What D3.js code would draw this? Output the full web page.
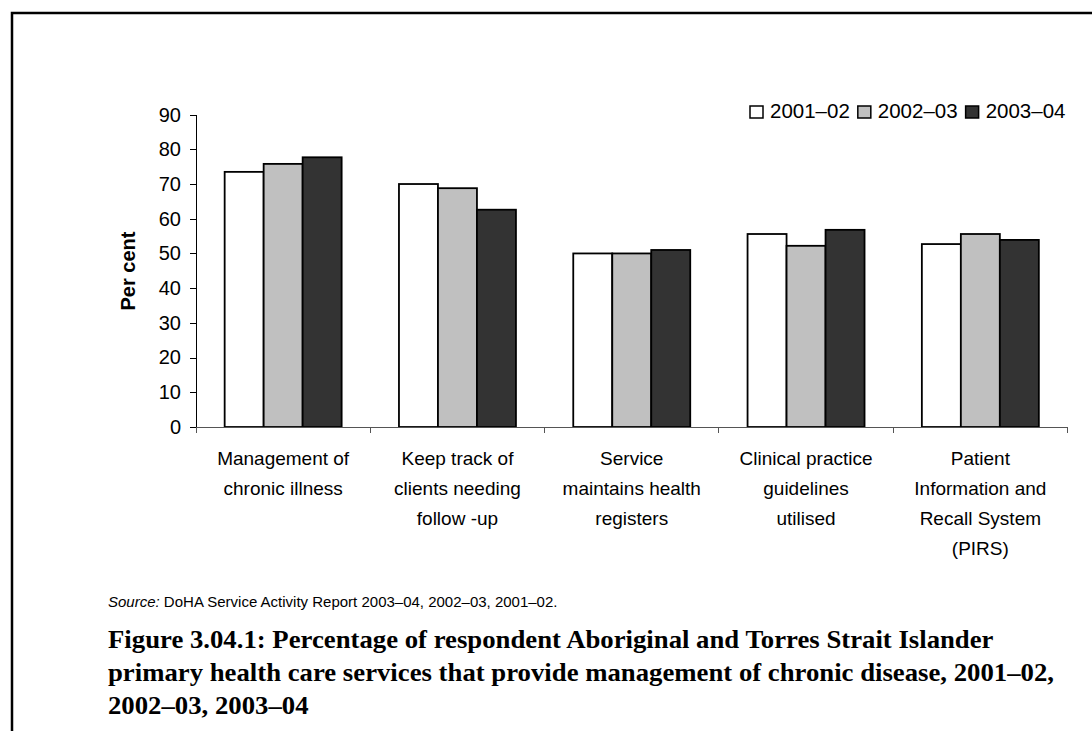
<!DOCTYPE html>
<html>
<head>
<meta charset="utf-8">
<script src="https://cdn.jsdelivr.net/npm/d3@7"></script>
<style>
  body { margin: 0; background: #fff; }
  text { fill: #000; }
</style>
</head>
<body>
<script>
// chart data
let categories = [
  ["Management of", "chronic illness"],
  ["Keep track of", "clients needing", "follow -up"],
  ["Service", "maintains health", "registers"],
  ["Clinical practice", "guidelines", "utilised"],
  ["Patient", "Information and", "Recall System", "(PIRS)"]
];
let seriesNames = ["2001\u201302", "2002\u201303", "2003\u201304"];
let values2001 = [73.5, 70.0, 50.0, 55.6, 52.7];
let values2002 = [75.8, 68.8, 50.0, 52.2, 55.6];
let values2003 = [77.7, 62.6, 51.0, 56.8, 53.9];
let yTicks = [0, 10, 20, 30, 40, 50, 60, 70, 80, 90];

let colors = ["#ffffff", "#c0c0c0", "#333333"];
let allValues = [values2001, values2002, values2003];

let sans = "'Liberation Sans', Arial, sans-serif";
let serif = "'Liberation Serif', 'Times New Roman', serif";

let width = 1092, height = 731;

let svg = d3.select("body")
            .append("svg")
            .attr("width", width)
            .attr("height", height)
            .style("font-family", sans);

// page frame
svg.append("path")
   .attr("d", "M12,731 V13 H1092")
   .attr("fill", "none")
   .attr("stroke", "#000")
   .attr("stroke-width", 2.5);

let x = d3.scaleBand()
          .domain(d3.range(categories.length))
          .range([196, 1067.5])
          .paddingInner(0)
          .paddingOuter(0);

let xInner = d3.scaleBand()
               .domain(d3.range(seriesNames.length))
               .range([0, x.bandwidth()])
               .paddingInner(0)
               .paddingOuter(0.735);

let y = d3.scaleLinear()
          .domain([0, 90])
          .range([427, 114.6]);

// bars
for (let s = 0; s < seriesNames.length; s++) {
  svg.append("g")
     .selectAll("rect")
     .data(allValues[s])
     .join("rect")
     .attr("x", (d, i) => x(i) + xInner(s))
     .attr("y", d => y(d))
     .attr("width", xInner.bandwidth())
     .attr("height", d => y(0) - y(d))
     .attr("fill", colors[s])
     .attr("stroke", "#000")
     .attr("stroke-width", 1.8);
}

// y axis
let yAxis = svg.append("g")
               .attr("transform", "translate(196,0)")
               .call(d3.axisLeft(y).tickValues(yTicks).tickSize(6).tickPadding(9));
yAxis.select(".domain").attr("stroke", "#000").attr("shape-rendering", "crispEdges");
yAxis.selectAll(".tick line").attr("stroke", "#000").attr("shape-rendering", "crispEdges");
yAxis.selectAll(".tick text")
     .style("font-family", sans)
     .attr("font-size", 20)
     .attr("fill", "#000");

// x axis: line plus ticks on category boundaries
let bounds = d3.range(categories.length + 1).map(i => i < categories.length ? x(i) : x.range()[1]);
svg.append("line")
   .attr("x1", x.range()[0]).attr("x2", x.range()[1])
   .attr("y1", y(0)).attr("y2", y(0))
   .attr("stroke", "#555")
   .attr("shape-rendering", "crispEdges");
svg.append("g")
   .selectAll("line")
   .data(bounds)
   .join("line")
   .attr("x1", d => d).attr("x2", d => d)
   .attr("y1", y(0)).attr("y2", y(0) + 6)
   .attr("stroke", "#555")
   .attr("shape-rendering", "crispEdges");

// category labels
let labels = svg.append("g")
                .selectAll("text")
                .data(categories)
                .join("text")
                .attr("text-anchor", "middle")
                .attr("font-size", 19)
                .attr("y", 465);
labels.selectAll("tspan")
      .data((d, i) => d.map(line => ({ line: line, i: i })))
      .join("tspan")
      .attr("x", d => x(d.i) + x.bandwidth() / 2)
      .attr("dy", (d, j) => j == 0 ? 0 : 30)
      .text(d => d.line);

// y axis title
svg.append("text")
   .attr("transform", "translate(135,271) rotate(-90)")
   .attr("text-anchor", "middle")
   .attr("font-size", 20)
   .attr("font-weight", "bold")
   .text("Per cent");

// legend
{
  let lx = 750;
  for (let s = 0; s < seriesNames.length; s++) {
    svg.append("rect")
       .attr("x", lx).attr("y", 106)
       .attr("width", 13).attr("height", 12)
       .attr("fill", colors[s])
       .attr("stroke", "#000")
       .attr("stroke-width", 1.5);
    let t = svg.append("text")
               .attr("x", lx + 20)
               .attr("y", 118)
               .attr("font-size", 20.5)
               .text(seriesNames[s]);
    lx += 20 + t.node().getComputedTextLength() + 8;
  }
}

// source note
{
  let src = svg.append("text")
               .attr("x", 108)
               .attr("y", 607)
               .attr("font-size", 15);
  src.append("tspan").attr("font-style", "italic").text("Source:");
  src.append("tspan").text(" DoHA Service Activity Report 2003\u201304, 2002\u201303, 2001\u201302.");
}

// figure caption (Palatino-like width: stretch serif a little)
let captionLines = [
  "Figure 3.04.1: Percentage of respondent Aboriginal and Torres Strait Islander",
  "primary health care services that provide management of chronic disease, 2001\u201302,",
  "2002\u201303, 2003\u201304"
];
svg.append("g")
   .attr("transform", "translate(108,0) scale(1.07,1)")
   .selectAll("text")
   .data(captionLines)
   .join("text")
   .attr("x", 0)
   .attr("y", (d, i) => 648 + i * 33)
   .style("font-family", serif)
   .attr("font-weight", "bold")
   .attr("font-size", 25)
   .text(d => d);
</script>
</body>
</html>
